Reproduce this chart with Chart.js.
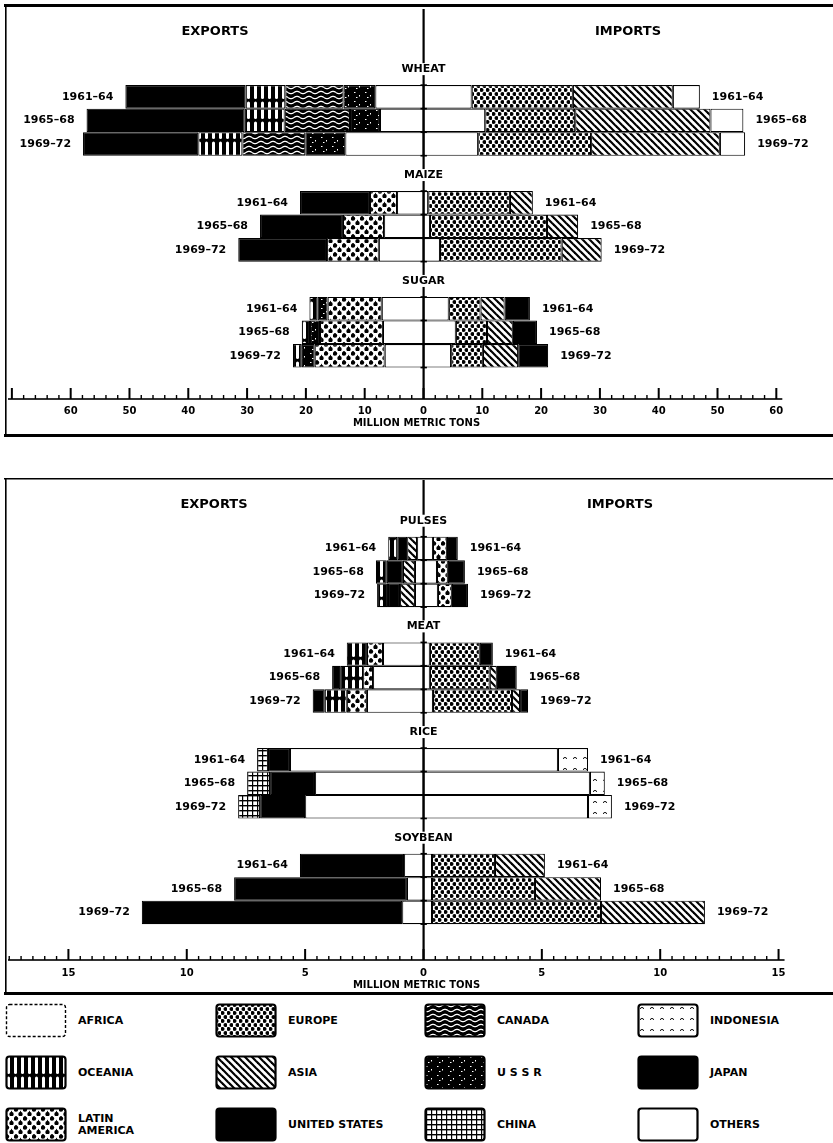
<!DOCTYPE html>
<html>
<head>
<meta charset="utf-8">
<title>Exports and imports by region</title>
<script src="https://cdn.jsdelivr.net/npm/chart.js@4.4.1/dist/chart.umd.min.js"></script>
<style>
  body { margin: 0; background: #fff; }
  #page { position: relative; width: 833px; height: 1143px; overflow: hidden;
          font-family: 'DejaVu Sans', sans-serif; font-weight: bold; color: #000; }
  .panel { position: absolute; left: 0; width: 833px; }
  #topPanel { top: 0; height: 437px; }
  #bottomPanel { top: 478px; height: 517px; }
  .key { position: absolute; display: flex; align-items: center; font-size: 11px; line-height: 12px; }
  .key canvas { margin-right: 11px; flex: none; }
</style>
</head>
<body>
<div id="page">
  <div class="panel" id="topPanel"><canvas id="topChart"></canvas></div>
  <div class="panel" id="bottomPanel"><canvas id="bottomChart"></canvas></div>
  <div id="legend"></div>
</div>
<script>
const periods = ['1961–64', '1965–68', '1969–72'];

// every list runs from the centre line outwards, values in million metric tons
const wheatExportRegions = ['OTHERS', 'U S S R', 'CANADA', 'OCEANIA', 'UNITED STATES'];
const wheatExports = [[8.2, 7.4, 13.3], [5.4, 5.1, 6.8], [9.9, 11.1, 10.7], [6.8, 6.8, 7.5], [20.4, 26.9, 19.6]];
const wheatImportRegions = ['AFRICA', 'EUROPE', 'ASIA', 'OTHERS'];
const wheatImports = [[8.2, 10.5, 9.3], [17.2, 15.3, 19.2], [17.0, 23.0, 21.9], [4.6, 5.6, 4.3]];

const maizeExportRegions = ['OTHERS', 'LATIN AMERICA', 'UNITED STATES'];
const maizeExports = [[4.5, 6.7, 7.6], [4.6, 7.0, 8.8], [11.9, 14.1, 15.1]];
const maizeImportRegions = ['AFRICA', 'EUROPE', 'ASIA'];
const maizeImports = [[0.8, 1.1, 2.8], [13.9, 19.9, 20.7], [3.9, 5.3, 6.8]];

const sugarExportRegions = ['OTHERS', 'LATIN AMERICA', 'U S S R', 'OCEANIA'];
const sugarExports = [[7.1, 6.9, 6.6], [9.2, 10.7, 11.9], [1.7, 1.7, 2.2], [1.4, 1.4, 1.5]];
const sugarImportRegions = ['AFRICA', 'EUROPE', 'ASIA', 'UNITED STATES'];
const sugarImports = [[4.3, 5.5, 4.7], [5.4, 5.3, 5.4], [4.1, 4.4, 6.0], [4.3, 4.1, 5.1]];

const pulsesExportRegions = ['OTHERS', 'ASIA', 'UNITED STATES', 'OCEANIA'];
const pulsesExports = [[0.27, 0.36, 0.36], [0.42, 0.51, 0.63], [0.42, 0.68, 0.51], [0.38, 0.46, 0.46]];
const pulsesImportRegions = ['AFRICA', 'LATIN AMERICA', 'JAPAN'];
const pulsesImports = [[0.40, 0.57, 0.61], [0.59, 0.46, 0.59], [0.46, 0.72, 0.68]];

const meatExportRegions = ['OTHERS', 'LATIN AMERICA', 'OCEANIA', 'UNITED STATES'];
const meatExports = [[1.71, 2.13, 2.39], [0.68, 0.42, 0.85], [0.85, 0.97, 0.93], [null, 0.34, 0.51]];
const meatImportRegions = ['AFRICA', 'EUROPE', 'ASIA', 'UNITED STATES'];
const meatImports = [[0.27, 0.27, 0.40], [2.11, 2.53, 3.34], [null, 0.30, 0.34], [0.55, 0.84, 0.34]];

const riceExportRegions = ['OTHERS', 'UNITED STATES', 'CHINA'];
const riceExports = [[5.64, 4.58, 5.0], [0.93, 1.90, 1.90], [0.46, 0.97, 0.93]];
const riceImportRegions = ['OTHERS', 'INDONESIA'];
const riceImports = [[5.68, 7.03, 6.95], [1.27, 0.63, 1.01]];

const soybeanExportRegions = ['OTHERS', 'UNITED STATES'];
const soybeanExports = [[0.82, 0.70, 0.90], [4.4, 7.3, 11.0]];
const soybeanImportRegions = ['AFRICA', 'EUROPE', 'ASIA'];
const soybeanImports = [[0.36, 0.36, 0.36], [2.66, 4.35, 7.14], [2.11, 2.79, 4.39]];

const topTicks = [-60, -50, -40, -30, -20, -10, 0, 10, 20, 30, 40, 50, 60];
const bottomTicks = [-15, -10, -5, 0, 5, 10, 15];

const legendRegions = ['AFRICA', 'EUROPE', 'CANADA', 'INDONESIA',
                       'OCEANIA', 'ASIA', 'U S S R', 'JAPAN',
                       'LATIN AMERICA', 'UNITED STATES', 'CHINA', 'OTHERS'];

const topGroups = [
  { name: 'WHEAT', expRegions: wheatExportRegions, exp: wheatExports, impRegions: wheatImportRegions, imp: wheatImports },
  { name: 'MAIZE', expRegions: maizeExportRegions, exp: maizeExports, impRegions: maizeImportRegions, imp: maizeImports },
  { name: 'SUGAR', expRegions: sugarExportRegions, exp: sugarExports, impRegions: sugarImportRegions, imp: sugarImports }
];
const bottomGroups = [
  { name: 'PULSES', expRegions: pulsesExportRegions, exp: pulsesExports, impRegions: pulsesImportRegions, imp: pulsesImports },
  { name: 'MEAT', expRegions: meatExportRegions, exp: meatExports, impRegions: meatImportRegions, imp: meatImports },
  { name: 'RICE', expRegions: riceExportRegions, exp: riceExports, impRegions: riceImportRegions, imp: riceImports },
  { name: 'SOYBEAN', expRegions: soybeanExportRegions, exp: soybeanExports, impRegions: soybeanImportRegions, imp: soybeanImports }
];

// ---- fill patterns (black and white, like the printed key)
function tile(w, h, draw) {
  const c = document.createElement('canvas');
  c.width = w; c.height = h;
  const g = c.getContext('2d');
  g.fillStyle = '#fff'; g.fillRect(0, 0, w, h);
  g.fillStyle = '#000'; g.strokeStyle = '#000';
  draw(g, w, h);
  return g.createPattern(c, 'repeat');
}
function dot(g, x, y, r) { g.beginPath(); g.arc(x, y, r, 0, Math.PI * 2); g.fill(); }

const fills = {
  'AFRICA': '#fff',
  'OTHERS': '#fff',
  'UNITED STATES': '#000',
  'JAPAN': '#000',
  'EUROPE': tile(6, 8, g => { dot(g, 1.5, 2, 2.05); dot(g, 4.5, 6, 2.05); }),
  'ASIA': tile(7, 7, g => {
    g.lineWidth = 2.2;
    for (const k of [-7, 0, 7]) { g.beginPath(); g.moveTo(k - 1, -1); g.lineTo(k + 8, 8); g.stroke(); }
  }),
  'CANADA': tile(12, 5, g => {
    g.fillRect(0, 0, 12, 5);
    g.strokeStyle = '#fff'; g.lineWidth = 1.3; g.beginPath();
    for (let x = 0; x <= 12; x += 0.5) {
      const y = 2.5 + 1.1 * Math.sin(x / 12 * Math.PI * 2);
      if (x === 0) g.moveTo(x, y); else g.lineTo(x, y);
    }
    g.stroke();
  }),
  'OCEANIA': tile(7, 20, g => {
    g.fillRect(0, 0, 7, 20);
    g.fillStyle = '#fff';
    g.beginPath(); g.roundRect(2, 1.5, 3, 17.5, 1.5); g.fill();
  }),
  'U S S R': tile(11, 9, g => {
    g.fillRect(0, 0, 11, 9);
    g.fillStyle = '#fff';
    g.fillRect(2, 2, 1.5, 1); g.fillRect(7, 5, 1, 1.5); g.fillRect(4, 7, 1.5, 1);
  }),
  'LATIN AMERICA': tile(9, 9, g => {
    for (const [x, y] of [[2, 2], [6.5, 6.5]]) {
      dot(g, x, y + 0.6, 2.2);
      g.beginPath(); g.moveTo(x - 1.4, y); g.lineTo(x, y - 2.9); g.lineTo(x + 1.4, y); g.fill();
    }
  }),
  'CHINA': tile(5, 5, g => { g.fillRect(0, 2, 5, 1.4); g.fillRect(2, 0, 1.2, 5); }),
  'INDONESIA': tile(10, 11, g => {
    g.lineWidth = 0.9;
    g.beginPath(); g.arc(5, 6, 1.6, Math.PI, 0); g.stroke();
  })
};

// ---- one stacked horizontal bar chart per panel
// category slots: 9 per commodity, a bar on every second slot, bars two slots tall
function buildData(groups) {
  const n = groups.length * 9 - 1;
  const labels = new Array(n).fill('');
  const datasets = [];
  groups.forEach((g, gi) => {
    const base = gi * 9;
    periods.forEach((p, k) => { labels[base + 2 * k] = g.name + ' ' + p; });
    const add = (regions, rows, sign) => regions.forEach((region, i) => {
      const data = new Array(n).fill(null);
      rows[i].forEach((v, k) => { data[base + 2 * k] = v == null ? null : sign * v; });
      datasets.push({
        label: region, data,
        backgroundColor: fills[region],
        borderColor: '#000', borderWidth: 1.1, borderSkipped: false,
        barPercentage: 2, categoryPercentage: 1,
        stack: 'all', clip: false
      });
    });
    add(g.expRegions, g.exp, -1);
    add(g.impRegions, g.imp, 1);
  });
  return { labels, datasets };
}

function sumAt(rows, k) { return rows.reduce((s, r) => s + (r[k] || 0), 0); }

function makeDecor(cfg) {
  return {
    id: 'decor',
    afterDatasetsDraw(chart) {
      const ctx = chart.ctx, xs = chart.scales.x, ys = chart.scales.y, area = chart.chartArea;
      const w = chart.width, h = chart.height;
      const x0 = xs.getPixelForValue(0);
      const axisY = area.bottom + cfg.axisGap;
      ctx.save();
      ctx.fillStyle = '#000';
      // frame
      ctx.fillRect(4, cfg.frameTop, w - 4, cfg.frameTopW);
      ctx.fillRect(5, cfg.frameTop, 1.6, h - cfg.frameTop);
      ctx.fillRect(4, h - 3, w - 4, 3);
      // centre line
      ctx.fillRect(x0 - 1, cfg.lineTop, 2.2, axisY - cfg.lineTop);
      // axis line with ticks pointing up
      const last = cfg.ticks[cfg.ticks.length - 1];
      ctx.fillRect(8, axisY - 0.8, xs.getPixelForValue(last) + 6 - 8, 1.6);
      for (let i = 0; ; i++) {
        const v = cfg.minorStart + i * cfg.minorStep;
        if (v > last + 1e-9) break;
        const px = xs.getPixelForValue(v);
        const r = v / cfg.majorStep;
        if (Math.abs(r - Math.round(r)) < 1e-6) ctx.fillRect(px - 1, axisY - 11, 2, 11);
        else ctx.fillRect(px - 0.7, axisY - 4, 1.4, 4);
      }
      // headers
      ctx.textBaseline = 'middle';
      ctx.textAlign = 'center';
      ctx.font = 'bold 13px "DejaVu Sans"';
      ctx.fillText('EXPORTS', cfg.headX[0], cfg.headY);
      ctx.fillText('IMPORTS', cfg.headX[1], cfg.headY);
      // commodity titles, centre marks and period labels
      cfg.groups.forEach((g, gi) => {
        const base = gi * 9;
        const yFirst = ys.getPixelForValue(base);
        const pitch = ys.getPixelForValue(base + 2) - yFirst;
        for (let k = 0; k <= 3; k++) ctx.fillRect(x0 - 3, yFirst - pitch / 2 + k * pitch - 0.8, 6.4, 1.6);
        ctx.font = 'bold 11px "DejaVu Sans"';
        ctx.textAlign = 'center';
        const ty = yFirst - pitch / 2 - 16;
        const tw = ctx.measureText(g.name).width;
        ctx.fillStyle = '#fff';
        ctx.fillRect(x0 - tw / 2 - 2, ty - 6, tw + 4, 12);
        ctx.fillStyle = '#000';
        ctx.fillText(g.name, x0, ty);
        periods.forEach((p, k) => {
          const y = ys.getPixelForValue(base + 2 * k);
          ctx.textAlign = 'right';
          ctx.fillText(p, xs.getPixelForValue(-sumAt(g.exp, k)) - 12, y);
          ctx.textAlign = 'left';
          ctx.fillText(p, xs.getPixelForValue(sumAt(g.imp, k)) + 12, y);
        });
      });
      ctx.restore();
    }
  };
}

function makePanel(canvasId, groups, cfg) {
  cfg.groups = groups;
  const axisFont = { family: 'DejaVu Sans', weight: 'bold', size: 10 };
  return new Chart(document.getElementById(canvasId), {
    type: 'bar',
    data: buildData(groups),
    options: {
      indexAxis: 'y',
      responsive: true,
      maintainAspectRatio: false,
      animation: false,
      events: [],
      layout: { padding: { top: cfg.padTop, left: 0, right: 0, bottom: 0 } },
      plugins: { legend: { display: false }, tooltip: { enabled: false } },
      scales: {
        x: {
          type: 'linear', stacked: true, min: cfg.min, max: cfg.max,
          grid: { display: false, drawTicks: false },
          border: { display: false },
          ticks: { color: '#000', font: axisFont, padding: cfg.tickPad, autoSkip: false, maxRotation: 0,
                   callback: v => Math.abs(v) },
          afterBuildTicks: s => { s.ticks = cfg.ticks.map(v => ({ value: v })); },
          afterFit: s => { s.height = cfg.axisH; },
          title: { display: true, text: 'MILLION METRIC TONS', color: '#000', font: axisFont,
                   padding: { top: 0, bottom: cfg.titlePad } }
        },
        y: { type: 'category', stacked: true, display: false }
      }
    },
    plugins: [makeDecor(cfg)]
  });
}

makePanel('topChart', topGroups, {
  min: -72.02, max: 69.64, ticks: topTicks, minorStart: -70, minorStep: 2, majorStep: 10,
  padTop: 91, axisH: 40, axisGap: 2, tickPad: 8, titlePad: 8,
  frameTop: 4, frameTopW: 3, lineTop: 9, headY: 32, headX: [215, 628]
});
makePanel('bottomChart', bottomGroups, {
  min: -17.89, max: 17.30, ticks: bottomTicks, minorStart: -17.5, minorStep: 0.5, majorStep: 5,
  padTop: 64.6, axisH: 41.5, axisGap: 6.5, tickPad: 14, titlePad: 4,
  frameTop: 0, frameTopW: 1.5, lineTop: 2, headY: 27, headX: [214, 620]
});

// ---- key
const keyCols = [5, 215, 424, 637];
const keyRows = [1003, 1055, 1107];
const legendBox = document.getElementById('legend');
legendRegions.forEach((region, i) => {
  const item = document.createElement('div');
  item.className = 'key';
  item.style.left = keyCols[i % 4] + 'px';
  item.style.top = keyRows[Math.floor(i / 4)] + 'px';
  const c = document.createElement('canvas');
  c.width = 62; c.height = 35;
  const g = c.getContext('2d');
  g.beginPath(); g.roundRect(1.5, 1.5, 59, 32, 3);
  g.fillStyle = fills[region]; g.fill();
  g.lineWidth = region === 'AFRICA' ? 1.4 : 2.2;
  g.setLineDash(region === 'AFRICA' ? [3, 2] : []);
  g.strokeStyle = '#000'; g.stroke();
  const t = document.createElement('span');
  t.innerHTML = region === 'LATIN AMERICA' ? 'LATIN<br>AMERICA' : region;
  item.appendChild(c); item.appendChild(t);
  legendBox.appendChild(item);
});
</script>
</body>
</html>
